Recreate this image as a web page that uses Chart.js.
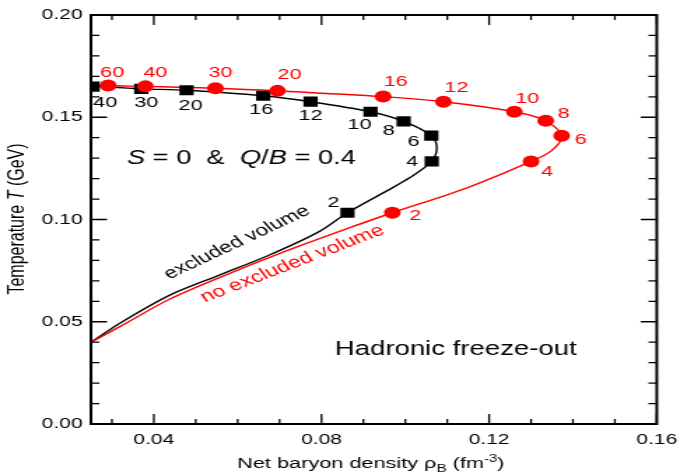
<!DOCTYPE html>
<html><head><meta charset="utf-8">
<script src="https://cdn.jsdelivr.net/npm/chart.js@4.4.1/dist/chart.umd.min.js"></script>
<style>
html,body{margin:0;padding:0;background:#fff;overflow:hidden;}
#c{display:block;}
</style></head>
<body>
<canvas id="c" width="491" height="473" style="width:687px;height:473px;"></canvas>
<script>
// ---------------- data ----------------
const exclLabels   = ['40','30','20','16','12','10','8','6','4','2'];
const exclMarkX    = [0.0254,0.0370,0.0478,0.0661,0.0774,0.0917,0.0996,0.1062,0.1063,0.0862];
const exclMarkY    = [0.1650,0.1639,0.1632,0.1605,0.1576,0.1527,0.1480,0.1410,0.1284,0.1033];
const noExclLabels = ['60','40','30','20','16','12','10','8','6','4','2'];
const noExclMarkX  = [0.0291,0.0380,0.0547,0.0695,0.0947,0.1091,0.1260,0.1335,0.1373,0.1300,0.0969];
const noExclMarkY  = [0.1655,0.1651,0.1642,0.1629,0.1601,0.1576,0.1527,0.1483,0.1410,0.1284,0.1033];

const exclCurveX   = [0.0250,0.0370,0.0478,0.0661,0.0774,0.0917,0.0996,0.1062,0.1075,0.1063,0.1011,0.0957,0.0862,0.0791,0.0673,0.0555,0.0437,0.0319,0.0250];
const exclCurveY   = [0.1652,0.1639,0.1632,0.1605,0.1576,0.1527,0.1480,0.1410,0.1351,0.1284,0.1205,0.1141,0.1033,0.0937,0.0824,0.0727,0.0629,0.0493,0.0400];
const noExclCurveX = [0.0250,0.0291,0.0380,0.0547,0.0695,0.0947,0.1091,0.1260,0.1335,0.1373,0.1349,0.1300,0.1146,0.0969,0.0869,0.0713,0.0555,0.0437,0.0319,0.0250];
const noExclCurveY = [0.1660,0.1655,0.1651,0.1642,0.1629,0.1601,0.1576,0.1527,0.1483,0.1410,0.1337,0.1284,0.1154,0.1033,0.0961,0.0844,0.0715,0.0610,0.0476,0.0400];

const xMajorTicks = [0.04,0.08,0.12,0.16];
const xMinorTicks = [0.03,0.05,0.06,0.07,0.09,0.10,0.11,0.13,0.14,0.15];
const yMajorTicks = [0.00,0.05,0.10,0.15,0.20];
const yMinorTicks = [0.01,0.02,0.03,0.04,0.06,0.07,0.08,0.09,0.11,0.12,0.13,0.14,0.16,0.17,0.18,0.19];

// ---------------- label placement (style, px) ----------------
const exclLabelDX   = [9,3.6,2.9,-1.4,0,-7.9,-10.7,-12.6,-13.9,-10];
const exclLabelDY   = [16,14,15,14,14,13,9,6,0,-10];
const noExclLabelDX = [2.9,7.1,3.6,8.6,9,9.3,9.3,12.9,13.6,11.4,16.4];
const noExclLabelDY = [-13,-14,-15,-16,-15,-13.5,-13,-7.5,4,10,3];

const FONT = '"Liberation Sans", Arial, Helvetica, sans-serif';
const RED = '#ff0000';
const pts = (xs, ys) => xs.map((x, i) => ({x: x, y: ys[i]}));

function drawRuns(ctx, runs, x, y, align) {
  let total = 0;
  runs.forEach(r => { ctx.font = r.font; r.w = ctx.measureText(r.t).width; total += r.w; });
  let cx = align === 'center' ? x - total / 2 : x;
  runs.forEach(r => { ctx.font = r.font; ctx.fillText(r.t, cx, y + (r.dy || 0)); cx += r.w; });
}

const frameTicks = {
  id: 'frameTicks',
  afterDraw(chart) {
    const {ctx, chartArea: a, scales: {x, y}} = chart;
    ctx.save();
    ctx.strokeStyle = '#000';
    ctx.lineWidth = 1.3;
    ctx.beginPath();
    const xt = (vals, len) => vals.forEach(v => {
      const p = x.getPixelForValue(v);
      ctx.moveTo(p, a.bottom); ctx.lineTo(p, a.bottom - len);
      ctx.moveTo(p, a.top); ctx.lineTo(p, a.top + len);
    });
    const yt = (vals, len) => vals.forEach(v => {
      const p = y.getPixelForValue(v);
      ctx.moveTo(a.left, p); ctx.lineTo(a.left + len, p);
      ctx.moveTo(a.right, p); ctx.lineTo(a.right - len, p);
    });
    xt(xMajorTicks, 10); xt(xMinorTicks, 5);
    yt(yMajorTicks, 11.5); yt(yMinorTicks, 6);
    ctx.stroke();
    ctx.lineWidth = 2;
    ctx.strokeRect(a.left, a.top, a.right - a.left, a.bottom - a.top);
    ctx.restore();
  }
};

const texts = {
  id: 'texts',
  afterDatasetsDraw(chart) {
    const ctx = chart.ctx;
    ctx.save();
    // point labels
    ctx.textAlign = 'center';
    ctx.textBaseline = 'middle';
    ctx.font = '15.5px ' + FONT;
    const m0 = chart.getDatasetMeta(0), m1 = chart.getDatasetMeta(1);
    ctx.fillStyle = RED;
    m0.data.forEach((el, i) => ctx.fillText(noExclLabels[i], el.x + noExclLabelDX[i], el.y + noExclLabelDY[i]));
    ctx.fillStyle = '#000';
    m1.data.forEach((el, i) => ctx.fillText(exclLabels[i], el.x + exclLabelDX[i], el.y + exclLabelDY[i]));

    ctx.textAlign = 'left';
    ctx.textBaseline = 'alphabetic';
    const N = (s) => s + 'px ' + FONT, I = (s) => 'italic ' + s + 'px ' + FONT;
    // S = 0 & Q/B = 0.4
    ctx.fillStyle = '#000';
    drawRuns(ctx, [
      {t: 'S', font: I(19.5)}, {t: ' = 0  &  ', font: N(19.5)},
      {t: 'Q', font: I(19.5)}, {t: '/', font: N(19.5)}, {t: 'B', font: I(19.5)},
      {t: ' = 0.4', font: N(19.5)}], 90.7, 164, 'left');
    // Hadronic freeze-out
    ctx.font = N(19.7);
    ctx.fillText('Hadronic freeze-out', 239.3, 355);
    // rotated curve labels
    ctx.save();
    ctx.translate(120.9, 279.5);
    ctx.rotate(-33.1 * Math.PI / 180);
    ctx.font = N(16.2);
    ctx.fillStyle = '#000';
    ctx.fillText('excluded volume', 0, 0);
    ctx.restore();
    ctx.save();
    ctx.translate(146.4, 302.5);
    ctx.rotate(-28.2 * Math.PI / 180);
    ctx.font = N(16.5);
    ctx.fillStyle = RED;
    ctx.fillText('no excluded volume', 0, 0);
    ctx.restore();
    // axis titles
    ctx.fillStyle = '#000';
    drawRuns(ctx, [
      {t: 'Net baryon density \u03C1', font: N(15.5)},
      {t: 'B', font: N(11), dy: 4},
      {t: ' (fm', font: N(15.5)},
      {t: '-3', font: N(10.5), dy: -6.5},
      {t: ')', font: N(15.5)}], 265, 468, 'center');
    ctx.save();
    ctx.translate(17, 219);
    ctx.rotate(-Math.PI / 2);
    drawRuns(ctx, [
      {t: 'Temperature ', font: N(16)},
      {t: 'T', font: I(16)},
      {t: ' (GeV)', font: N(16)}], 0, 0, 'center');
    ctx.restore();
    ctx.restore();
  }
};

new Chart(document.getElementById('c'), {
  type: 'scatter',
  data: {
    datasets: [
      {label: 'no excluded volume points', data: pts(noExclMarkX, noExclMarkY), pointStyle: 'circle', pointRadius: 6,
       backgroundColor: RED, borderColor: RED, borderWidth: 0, order: 0},
      {label: 'excluded volume points', data: pts(exclMarkX, exclMarkY), pointStyle: 'rect', pointRadius: 7.2,
       backgroundColor: '#000', borderColor: '#000', borderWidth: 0, order: 1},
      {label: 'no excluded volume', data: pts(noExclCurveX, noExclCurveY), showLine: true, pointRadius: 0,
       borderColor: RED, borderWidth: 1.4, tension: 0.3, fill: false, order: 2},
      {label: 'excluded volume', data: pts(exclCurveX, exclCurveY), showLine: true, pointRadius: 0,
       borderColor: '#000', borderWidth: 1.4, tension: 0.3, fill: false, order: 3}
    ]
  },
  options: {
    responsive: false,
    devicePixelRatio: 1,
    animation: false,
    layout: {padding: {left: 0, right: 18, top: 14, bottom: 0}},
    plugins: {legend: {display: false}, tooltip: {enabled: false}},
    scales: {
      x: {
        type: 'linear', min: 0.025, max: 0.16,
        afterBuildTicks: s => { s.ticks = xMajorTicks.map(v => ({value: v})); },
        afterFit: s => { s.height = 49; },
        grid: {display: false, drawTicks: false}, border: {display: false},
        ticks: {color: '#000', font: {family: FONT, size: 15}, padding: 7, maxRotation: 0, autoSkip: false,
                callback: v => Number(v).toFixed(2)}
      },
      y: {
        type: 'linear', min: 0, max: 0.2,
        afterBuildTicks: s => { s.ticks = yMajorTicks.map(v => ({value: v})); },
        afterFit: s => { s.width = 65; },
        grid: {display: false, drawTicks: false}, border: {display: false},
        ticks: {color: '#000', font: {family: FONT, size: 15}, padding: 6, autoSkip: false,
                callback: v => Number(v).toFixed(2)}
      }
    }
  },
  plugins: [frameTicks, texts]
});
</script>
</body></html>
